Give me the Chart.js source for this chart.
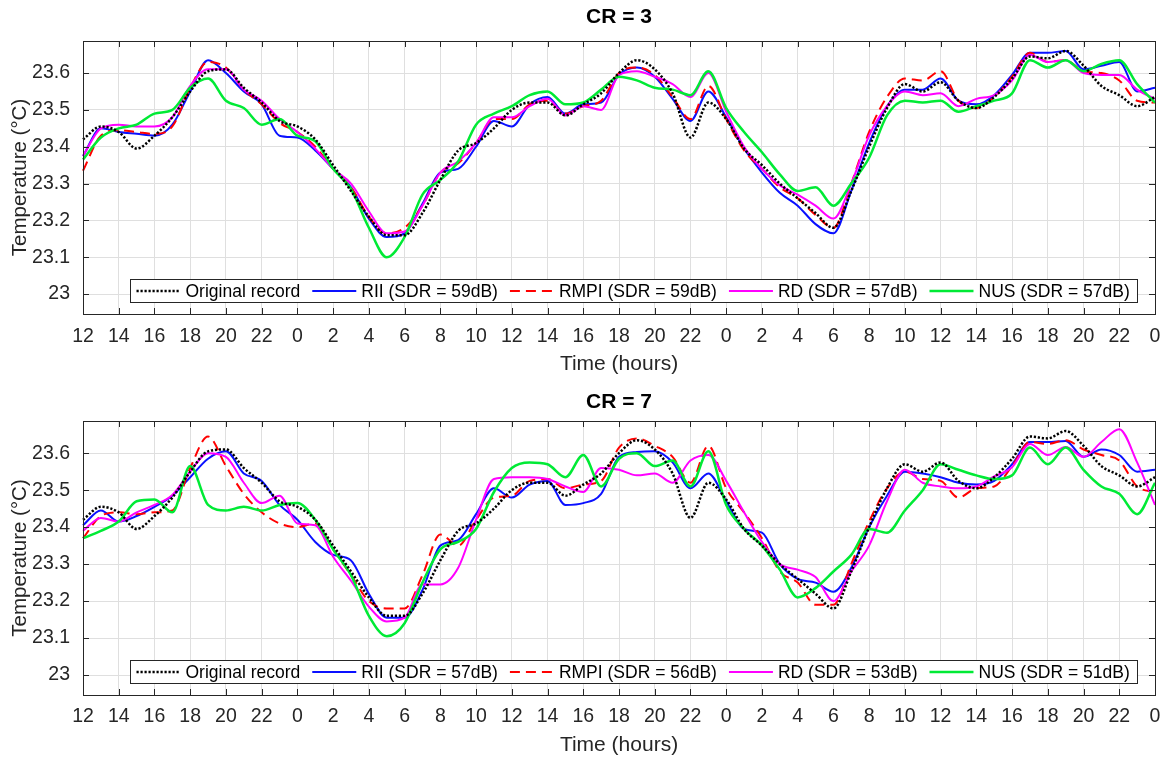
<!DOCTYPE html>
<html>
<head>
<meta charset="utf-8">
<title>Temperature reconstruction</title>
<script src="https://cdn.jsdelivr.net/npm/chart.js@4.4.1/dist/chart.umd.min.js"></script>
<style>
  body { margin: 0; background: #fff; }
  canvas { display: block; }
</style>
</head>
<body>
<canvas id="cr3" width="1166" height="379"></canvas>
<canvas id="cr7" width="1166" height="379"></canvas>
<script>
// one sample per hour, starting at noon and running 60 hours
const clockHours = [12, 13, 14, 15, 16, 17, 18, 19, 20, 21, 22, 23,
  0, 1, 2, 3, 4, 5, 6, 7, 8, 9, 10, 11, 12, 13, 14, 15, 16, 17, 18, 19, 20, 21, 22, 23,
  0, 1, 2, 3, 4, 5, 6, 7, 8, 9, 10, 11, 12, 13, 14, 15, 16, 17, 18, 19, 20, 21, 22, 23,
  0];
const yTickValues = [23, 23.1, 23.2, 23.3, 23.4, 23.5, 23.6];
const yTickLabels = ['23', '23.1', '23.2', '23.3', '23.4', '23.5', '23.6'];

// recorded temperature (°C)
const original = [
  23.42, 23.455, 23.44, 23.395, 23.43, 23.48, 23.55, 23.605, 23.61, 23.56,
  23.52, 23.47, 23.455, 23.42, 23.35, 23.28, 23.21, 23.16, 23.16, 23.22,
  23.31, 23.39, 23.41, 23.45, 23.5, 23.52, 23.52, 23.485, 23.515, 23.545,
  23.6, 23.635, 23.61, 23.545, 23.425, 23.52, 23.475, 23.395, 23.35, 23.3,
  23.26, 23.22, 23.18, 23.28, 23.4, 23.505, 23.57, 23.55, 23.575, 23.525,
  23.505, 23.535, 23.585, 23.645, 23.64, 23.66, 23.62, 23.565, 23.54, 23.51,
  23.535];

// CR = 3 reconstructions
const rii3 = [
  23.375, 23.45, 23.44, 23.435, 23.43, 23.46, 23.55, 23.635, 23.6, 23.55,
  23.515, 23.43, 23.425, 23.39, 23.34, 23.29, 23.205, 23.155, 23.165, 23.245,
  23.33, 23.34, 23.4, 23.47, 23.455, 23.515, 23.535, 23.49, 23.515, 23.52,
  23.595, 23.615, 23.59, 23.53, 23.47, 23.55, 23.48, 23.395, 23.33, 23.275,
  23.24, 23.19, 23.165, 23.28, 23.41, 23.51, 23.555, 23.555, 23.585, 23.525,
  23.515, 23.54, 23.595, 23.655, 23.655, 23.66, 23.61, 23.62, 23.63, 23.55,
  23.56];
const rmpi3 = [
  23.335, 23.43, 23.445, 23.44, 23.435, 23.455, 23.56, 23.63, 23.615, 23.555,
  23.515, 23.465, 23.44, 23.4, 23.34, 23.29, 23.21, 23.165, 23.18, 23.24,
  23.33, 23.355, 23.41, 23.475, 23.475, 23.515, 23.525, 23.49, 23.51, 23.525,
  23.6, 23.615, 23.595, 23.535, 23.475, 23.565, 23.475, 23.39, 23.34, 23.29,
  23.26, 23.215, 23.18, 23.3, 23.44, 23.535, 23.585, 23.58, 23.605, 23.525,
  23.505, 23.535, 23.59, 23.655, 23.63, 23.635, 23.605, 23.6, 23.58, 23.525,
  23.52];
const rd3 = [
  23.375, 23.45, 23.46, 23.455, 23.455, 23.48, 23.565, 23.61, 23.61, 23.555,
  23.525, 23.475, 23.44, 23.395, 23.34, 23.3, 23.225, 23.165, 23.17, 23.24,
  23.33, 23.36, 23.41, 23.48, 23.48, 23.51, 23.53, 23.485, 23.51, 23.5,
  23.595, 23.605, 23.59, 23.57, 23.535, 23.6, 23.495, 23.4, 23.34, 23.295,
  23.27, 23.24, 23.205, 23.3, 23.43, 23.51, 23.55, 23.54, 23.545, 23.51,
  23.53, 23.54, 23.58, 23.65, 23.63, 23.635, 23.6, 23.595, 23.595, 23.555,
  23.53];
const nus3 = [
  23.365, 23.425, 23.45, 23.46, 23.49, 23.5, 23.56, 23.585, 23.525, 23.505,
  23.46, 23.475, 23.43, 23.415, 23.34, 23.285, 23.18, 23.1, 23.155, 23.27,
  23.31, 23.36, 23.46, 23.49, 23.51, 23.54, 23.55, 23.515, 23.52, 23.555,
  23.59, 23.58, 23.56, 23.555, 23.54, 23.605, 23.505, 23.44, 23.385, 23.325,
  23.28, 23.29, 23.24, 23.3, 23.37, 23.485, 23.525, 23.52, 23.525, 23.495,
  23.51, 23.525, 23.545, 23.635, 23.615, 23.635, 23.605, 23.625, 23.635, 23.57,
  23.52];

// CR = 7 reconstructions
const rii7 = [
  23.405, 23.445, 23.415, 23.43, 23.455, 23.485, 23.535, 23.585, 23.605, 23.545,
  23.525, 23.46, 23.42, 23.36, 23.325, 23.31, 23.22, 23.155, 23.155, 23.23,
  23.35, 23.365, 23.435, 23.505, 23.48, 23.515, 23.525, 23.46, 23.465, 23.49,
  23.59, 23.603, 23.605, 23.575, 23.505, 23.545, 23.47, 23.395, 23.385, 23.3,
  23.26, 23.25, 23.225, 23.29, 23.4, 23.485, 23.55, 23.545, 23.535, 23.52,
  23.515, 23.525, 23.57, 23.63, 23.63, 23.633, 23.59, 23.61, 23.595, 23.55,
  23.555];
const rmpi7 = [
  23.37, 23.43, 23.44, 23.435, 23.44, 23.445, 23.56, 23.645, 23.565, 23.49,
  23.44, 23.41, 23.4, 23.41, 23.34, 23.27, 23.2, 23.18, 23.18, 23.27,
  23.38, 23.35, 23.42, 23.48, 23.485, 23.525, 23.53, 23.505, 23.515, 23.525,
  23.615, 23.64, 23.62, 23.59, 23.52, 23.62, 23.505, 23.44, 23.37, 23.28,
  23.25, 23.19, 23.19, 23.3, 23.415, 23.505, 23.55, 23.53, 23.525, 23.48,
  23.505, 23.51, 23.565, 23.63, 23.625, 23.635, 23.61, 23.595, 23.58, 23.51,
  23.495];
const rd7 = [
  23.39, 23.425, 23.415, 23.44, 23.46, 23.487, 23.55, 23.6, 23.59, 23.52,
  23.465, 23.485, 23.41, 23.405, 23.32, 23.255, 23.185, 23.145, 23.155, 23.245,
  23.245, 23.29, 23.42, 23.53, 23.535, 23.535, 23.53, 23.51, 23.495, 23.56,
  23.555, 23.54, 23.545, 23.52, 23.58, 23.595, 23.525, 23.44, 23.36, 23.3,
  23.285, 23.265, 23.2, 23.28, 23.35, 23.47, 23.555, 23.52, 23.51, 23.505,
  23.51, 23.537, 23.562, 23.625, 23.595, 23.617, 23.59, 23.63, 23.665, 23.575,
  23.46];
const nus7 = [
  23.37, 23.39, 23.415, 23.47, 23.475, 23.44, 23.565, 23.46, 23.445, 23.455,
  23.445, 23.46, 23.465, 23.42, 23.34, 23.27, 23.16, 23.105, 23.14, 23.25,
  23.34, 23.36, 23.395, 23.495, 23.56, 23.575, 23.57, 23.535, 23.595, 23.51,
  23.585, 23.6, 23.565, 23.58, 23.51, 23.605, 23.46, 23.395, 23.35, 23.285,
  23.21, 23.235, 23.28, 23.325, 23.395, 23.385, 23.445, 23.5, 23.57, 23.555,
  23.54, 23.53, 23.54, 23.615, 23.57, 23.615, 23.555, 23.51, 23.49, 23.435,
  23.52];

const labels3 = ['Original record', 'RII (SDR = 59dB)', 'RMPI (SDR = 59dB)', 'RD (SDR = 57dB)', 'NUS (SDR = 57dB)'];
const labels7 = ['Original record', 'RII (SDR = 57dB)', 'RMPI (SDR = 56dB)', 'RD (SDR = 53dB)', 'NUS (SDR = 51dB)'];

const axisColor = '#262626';
const gridColor = '#dfdfdf';
Chart.defaults.font.family = '"Liberation Sans", Arial, sans-serif';

const lineStyles = [
  { color: '#000000', width: 2.5, dash: [2.2, 1.8], order: 0 },
  { color: '#0a10ff', width: 2, dash: [], order: 4 },
  { color: '#ff0000', width: 2, dash: [10, 6], order: 3 },
  { color: '#ff00ff', width: 2, dash: [], order: 2 },
  { color: '#00ea35', width: 2.5, dash: [], order: 1 }
];

// closed axes box, inward tick marks and the legend inside the plot
const axesBox = {
  id: 'axesBox',
  afterDatasetsDraw(chart, args, opts) {
    const { ctx, chartArea: a, scales: { x, y } } = chart;
    const tickLen = 6;
    ctx.save();
    ctx.strokeStyle = axisColor;
    ctx.lineWidth = 1;
    ctx.setLineDash([]);
    ctx.beginPath();
    x.ticks.forEach((t, i) => {
      const px = Math.round(x.getPixelForTick(i)) + 0.5;
      ctx.moveTo(px, a.top); ctx.lineTo(px, a.top + tickLen);
      ctx.moveTo(px, a.bottom); ctx.lineTo(px, a.bottom - tickLen);
    });
    y.ticks.forEach(t => {
      const py = Math.round(y.getPixelForValue(t.value)) + 0.5;
      ctx.moveTo(a.left, py); ctx.lineTo(a.left + tickLen, py);
      ctx.moveTo(a.right, py); ctx.lineTo(a.right - tickLen, py);
    });
    ctx.stroke();
    ctx.strokeRect(Math.round(a.left) + 0.5, Math.round(a.top) + 0.5,
      Math.round(a.right - a.left), Math.round(a.bottom - a.top));

    // legend
    const items = chart.data.datasets;
    ctx.font = '17.5px "Liberation Sans", Arial, sans-serif';
    const widths = items.map(d => ctx.measureText(d.label).width);
    const pad = 6, sample = 44, gap = 5, spacing = 12, endPad = 8, boxH = 23;
    const total = pad + widths.reduce((s, w) => s + sample + gap + w, 0) + spacing * (items.length - 1) + endPad;
    const left = Math.round(a.left + opts.offsetX) + 0.5;
    const bottom = Math.round(a.bottom - opts.offsetBottom) + 0.5;
    const top = bottom - boxH;
    ctx.fillStyle = '#ffffff';
    ctx.fillRect(left, top, total, boxH);
    ctx.strokeStyle = axisColor;
    ctx.strokeRect(left, top, Math.round(total), boxH);
    const midY = top + boxH / 2;
    let cx = left + pad;
    items.forEach((d, i) => {
      ctx.beginPath();
      ctx.strokeStyle = d.borderColor;
      ctx.lineWidth = d.borderWidth;
      ctx.setLineDash(d.borderDash);
      ctx.moveTo(cx, midY); ctx.lineTo(cx + sample, midY);
      ctx.stroke();
      ctx.setLineDash([]);
      cx += sample + gap;
      ctx.fillStyle = '#000000';
      ctx.textBaseline = 'middle';
      ctx.textAlign = 'left';
      ctx.fillText(d.label, cx, midY + 1);
      cx += widths[i] + spacing;
    });
    ctx.restore();
  }
};

function makePanel(id, series, legendLabels, title, geo) {
  const datasets = series.map((vals, i) => ({
    label: legendLabels[i],
    data: vals,
    borderColor: lineStyles[i].color,
    borderWidth: lineStyles[i].width,
    borderDash: lineStyles[i].dash,
    order: lineStyles[i].order,
    pointRadius: 0,
    cubicInterpolationMode: 'monotone',
    fill: false
  }));

  return new Chart(document.getElementById(id), {
    type: 'line',
    data: { labels: clockHours, datasets: datasets },
    options: {
      responsive: false,
      animation: false,
      events: [],
      layout: { padding: { left: 0, right: 11, top: 0, bottom: 0 } },
      plugins: {
        legend: { display: false },
        tooltip: { enabled: false },
        title: {
          display: true,
          text: title,
          fullSize: false,
          color: '#000000',
          font: { size: 21, weight: 'bold' },
          padding: { top: geo.titleTop, bottom: geo.titleBottom }
        },
        axesBox: { offsetX: 47, offsetBottom: geo.legendBottom }
      },
      scales: {
        x: {
          type: 'category',
          offset: false,
          grid: { color: gridColor, drawTicks: false },
          border: { display: false },
          afterBuildTicks: s => { s.ticks = s.ticks.filter(t => t.value % 2 === 0); },
          afterFit: s => {
            s.height = geo.xAxisH;
            // edge labels fit inside the fixed margins
            s.paddingLeft = 0;
            s.paddingRight = 0;
          },
          ticks: {
            autoSkip: false,
            maxRotation: 0,
            color: axisColor,
            font: { size: 19.5 },
            padding: geo.xTickPad,
            callback: function (v) { return this.getLabelForValue(v); }
          },
          title: {
            display: true,
            text: 'Time (hours)',
            color: axisColor,
            font: { size: 21 },
            padding: { top: 0, bottom: geo.xTitlePad }
          }
        },
        y: {
          min: 22.946,
          max: 23.687,
          grid: { color: gridColor, drawTicks: false },
          border: { display: false },
          afterBuildTicks: s => { s.ticks = yTickValues.map(v => ({ value: v })); },
          afterFit: s => { s.width = 83; },
          ticks: {
            color: axisColor,
            font: { size: 19.5 },
            padding: 13,
            callback: (v, i) => yTickLabels[i]
          },
          title: {
            display: true,
            text: 'Temperature (°C)',
            color: axisColor,
            font: { size: 20.5 },
            padding: { top: 8, bottom: 0 }
          }
        }
      }
    },
    plugins: [axesBox]
  });
}

makePanel('cr3', [original, rii3, rmpi3, rd3, nus3], labels3, 'CR = 3',
  { titleTop: 4.4, titleBottom: 11.4, xAxisH: 65, xTickPad: 11, xTitlePad: 2.4, legendBottom: 12 });
makePanel('cr7', [original, rii7, rmpi7, rd7, nus7], labels7, 'CR = 7',
  { titleTop: 10.4, titleBottom: 6.4, xAxisH: 63, xTickPad: 10, xTitlePad: 0.4, legendBottom: 12.5 });
</script>
</body>
</html>
